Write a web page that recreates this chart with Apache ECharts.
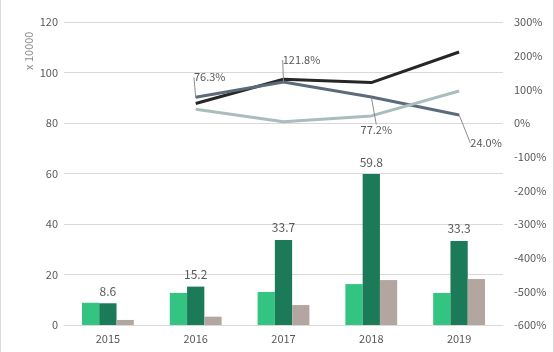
<!DOCTYPE html>
<html>
<head>
<meta charset="utf-8">
<script src="https://cdn.jsdelivr.net/npm/echarts@6/dist/echarts.min.js"></script>
<style>
    html, body {margin: 0; padding: 0; background: #fff;}
    #main {width: 552px; height: 352px; border-left: 1px solid #d9d9d9; border-right: 1px solid #d9d9d9;}
</style>
</head>
<body>
<div id="main"></div>
<script>
const FONT = '"Noto Sans CJK SC", "Noto Sans", sans-serif';

// ------------------ data ------------------
let years = ['2015', '2016', '2017', '2018', '2019'];

let bar1 = [8.8, 12.7, 13.1, 16.2, 12.7];
let bar2 = [8.6, 15.2, 33.7, 59.8, 33.3];
let bar3 = [2.0, 3.3, 7.9, 17.8, 18.2];

// 增长率 (%)
let rateBlack = [null, 58, 130, 120, 211];
let rateSlate = [null, 76.3, 121.8, 77.2, 24.0];
let rateLight = [null, 41, 4, 21, 95];

// label offsets for the slate line
let slateLabelOffset = [[0, 0], [14, -20], [18, -22], [5, 33], [27, 28]];

let myChart = echarts.init(document.getElementById('main'));

let option = {
    animation: false,
    textStyle: {fontFamily: FONT},
    grid: {left: 63, right: 50, top: 22, bottom: 27, containLabel: false},
    graphic: [{
        type: 'text',
        x: 22,
        y: 70,
        rotation: Math.PI / 2,
        style: {text: 'x 10000', fill: '#8c8c8c', font: '11px ' + FONT}
    }],
    xAxis: {
        type: 'category',
        data: years,
        axisLine: {lineStyle: {color: '#d9d9d9'}},
        axisTick: {show: false},
        axisLabel: {color: '#595959', fontSize: 11, margin: 8}
    },
    yAxis: [
        {
            type: 'value',
            min: 0,
            max: 120,
            interval: 20,
            axisLine: {show: false},
            axisTick: {show: false},
            axisLabel: {color: '#595959', fontSize: 11, margin: 6},
            splitLine: {lineStyle: {color: '#d9d9d9'}}
        },
        {
            type: 'value',
            min: -600,
            max: 300,
            interval: 100,
            axisLine: {show: false},
            axisTick: {show: false},
            axisLabel: {color: '#595959', fontSize: 11, margin: 11, formatter: '{value}%'},
            splitLine: {show: false}
        }
    ],
    series: [
        {
            name: '系列1',
            type: 'bar',
            data: bar1,
            barGap: '0%',
            barCategoryGap: '41%',
            itemStyle: {color: '#33c481'}
        },
        {
            name: '系列2',
            type: 'bar',
            data: bar2,
            itemStyle: {color: '#1b7a57'},
            label: {
                show: true,
                position: 'top',
                distance: 6,
                color: '#595959',
                fontSize: 12,
                formatter: function (p) {
                    return p.value.toFixed(1);
                }
            }
        },
        {
            name: '系列3',
            type: 'bar',
            data: bar3,
            itemStyle: {color: '#b3a6a1'}
        },
        {
            name: '增长率1',
            type: 'line',
            yAxisIndex: 1,
            data: rateBlack,
            symbol: 'none',
            lineStyle: {color: '#262626', width: 3}
        },
        {
            name: '增长率2',
            type: 'line',
            yAxisIndex: 1,
            data: rateSlate,
            symbol: 'circle',
            symbolSize: 1,
            showSymbol: true,
            itemStyle: {color: '#5b6b7a'},
            lineStyle: {color: '#5b6b7a', width: 3},
            label: {
                show: true,
                position: 'inside',
                color: '#595959',
                fontSize: 11,
                formatter: function (p) {
                    return p.value.toFixed(1) + '%';
                }
            },
            labelLine: {
                show: true,
                lineStyle: {color: '#8c8c8c', width: 1}
            },
            labelLayout: function (params) {
                let off = slateLabelOffset[params.dataIndex] || [0, 0];
                return {dx: off[0], dy: off[1]};
            }
        },
        {
            name: '增长率3',
            type: 'line',
            yAxisIndex: 1,
            data: rateLight,
            symbol: 'none',
            lineStyle: {color: '#abbcbc', width: 3}
        }
    ]
};

myChart.setOption(option, true);
</script>
</body>
</html>
